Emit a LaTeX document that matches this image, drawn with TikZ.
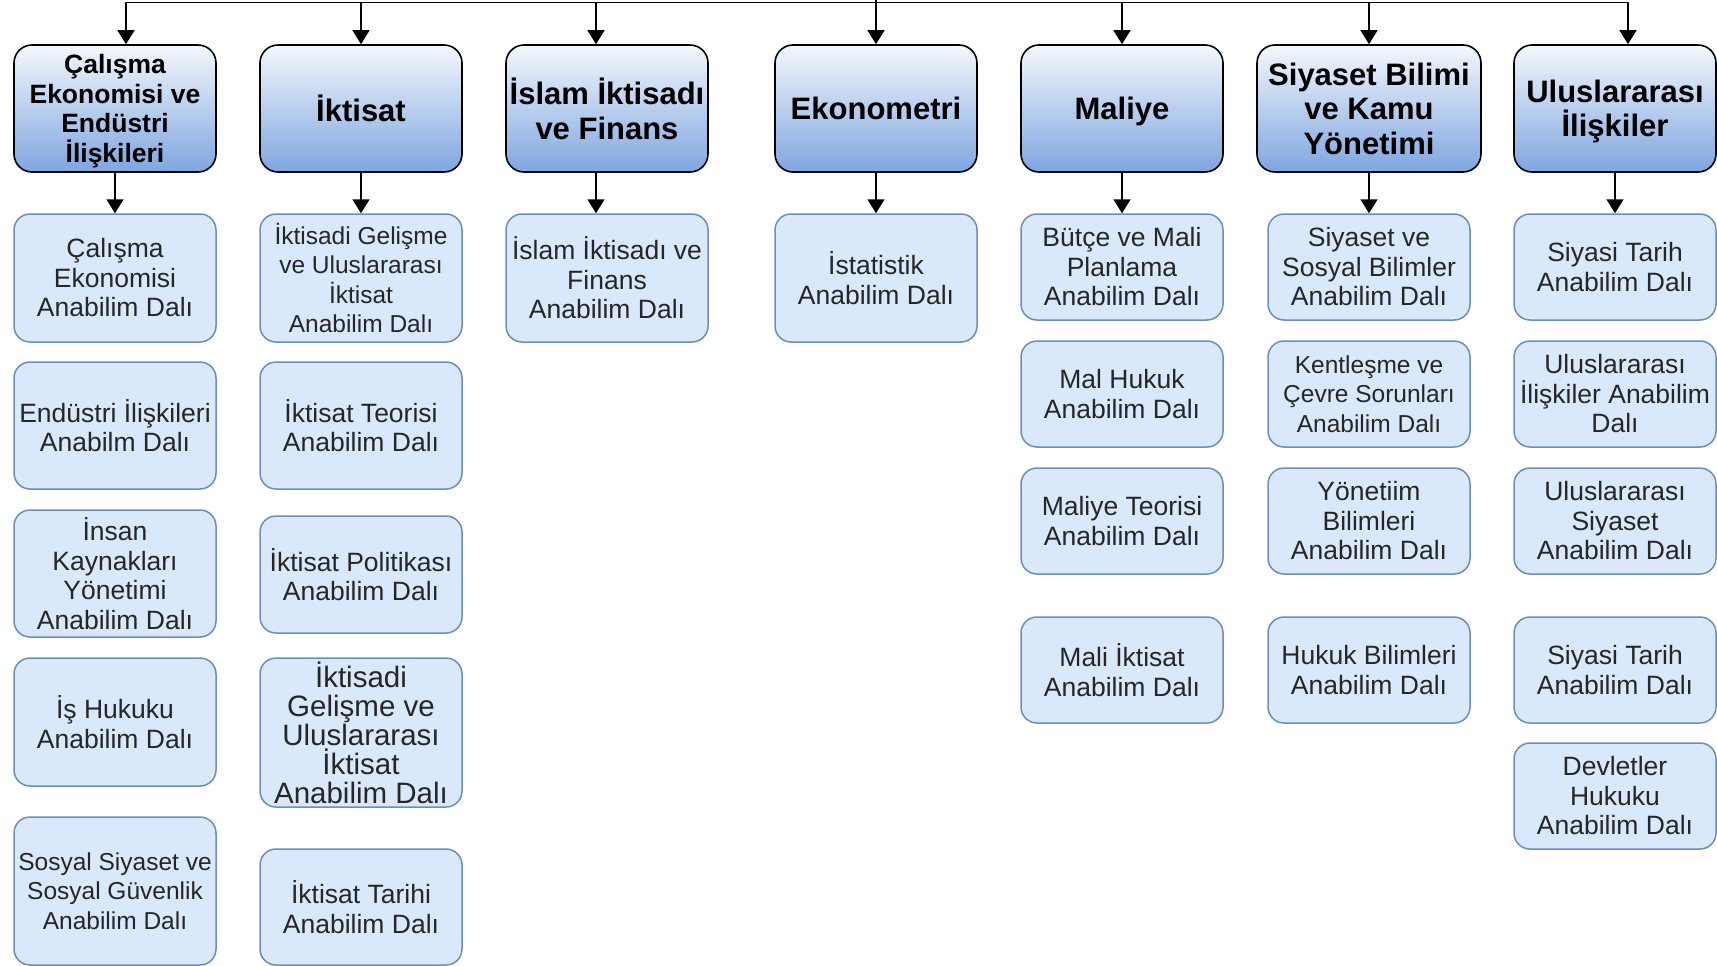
\documentclass[tikz,border=0pt]{standalone}
\usepackage{fontspec}
\setmainfont{Liberation Sans}
\usetikzlibrary{arrows.meta}
\definecolor{hdrtop}{HTML}{F4F7FC}
\definecolor{hdrbot}{HTML}{7EA6E0}
\definecolor{subfill}{HTML}{DAE8FC}
\definecolor{substroke}{HTML}{6C8EBF}
\definecolor{txt}{HTML}{262626}
\begin{document}
\begin{tikzpicture}[x=1pt,y=1pt,
 hdr/.style={draw=black, line width=1.6pt, rounded corners=18pt, top color=hdrtop, bottom color=hdrbot, minimum width=202pt, minimum height=127pt, inner sep=0pt, align=center, text=black, text depth=0pt, font=\fontsize{31}{34.5}\selectfont\bfseries},
 hdrsmall/.style={font=\fontsize{26.5}{29.5}\selectfont\bfseries},
 sub/.style={draw=substroke, line width=1.5pt, rounded corners=16pt, fill=subfill, minimum width=202pt, inner sep=0pt, align=center, text=txt, font=\fontsize{26.5}{29.5}\selectfont},
 subsmall/.style={font=\fontsize{24.5}{29.5}\selectfont},
 sublarge/.style={font=\fontsize{29.5}{29}\selectfont},
 conn/.style={line width=1.5pt, -{Triangle[length=14pt,width=17pt]}},
 plain/.style={line width=1.5pt},
]
\useasboundingbox (0,0) rectangle (1717,-966);

% headers
\node[hdr,hdrsmall] (h1) at (115,-108.5) {Çalışma\\Ekonomisi ve\\Endüstri\\İlişkileri};
\node[hdr] (h2) at (361,-108.5) {İktisat};
\node[hdr] (h3) at (607,-108.5) {İslam İktisadı\\ve Finans};
\node[hdr] (h4) at (876,-108.5) {Ekonometri};
\node[hdr] (h5) at (1122,-108.5) {Maliye};
\node[hdr,minimum width=224pt] (h6) at (1369,-108.5) {Siyaset Bilimi\\ve Kamu\\Yönetimi};
\node[hdr] (h7) at (1615,-108.5) {Uluslararası\\İlişkiler};

% column 1
\node[sub,minimum height=128pt] (c11) at (115,-278) {Çalışma\\Ekonomisi\\Anabilim Dalı};
\node[sub,minimum height=127pt] (c12) at (115,-425.5) {Endüstri İlişkileri\\Anabilm Dalı};
\node[sub,minimum height=127pt] (c13) at (115,-573.5) {İnsan\\Kaynakları\\Yönetimi\\Anabilim Dalı};
\node[sub,minimum height=128pt] (c14) at (115,-722) {İş Hukuku\\Anabilim Dalı};
\node[sub,subsmall,minimum height=148pt] (c15) at (115,-891) {Sosyal Siyaset ve\\Sosyal Güvenlik\\Anabilim Dalı};

% column 2
\node[sub,subsmall,minimum height=128pt] (c21) at (361,-278) {İktisadi Gelişme\\ve Uluslararası\\İktisat\\Anabilim Dalı};
\node[sub,minimum height=127pt] (c22) at (361,-425.5) {İktisat Teorisi\\Anabilim Dalı};
\node[sub,minimum height=117pt] (c23) at (361,-574.5) {İktisat Politikası\\Anabilim Dalı};
\node[sub,sublarge,minimum height=149pt] (c24) at (361,-732.5) {İktisadi\\Gelişme ve\\Uluslararası\\İktisat\\Anabilim Dalı};
\node[sub,minimum height=116pt] (c25) at (361,-907) {İktisat Tarihi\\Anabilim Dalı};

% column 3, 4
\node[sub,minimum height=128pt] (c31) at (607,-278) {İslam İktisadı ve\\Finans\\Anabilim Dalı};
\node[sub,minimum height=128pt] (c41) at (876,-278) {İstatistik\\Anabilim Dalı};

% column 5
\node[sub,minimum height=106pt] (c51) at (1122,-267) {Bütçe ve Mali\\Planlama\\Anabilim Dalı};
\node[sub,minimum height=106pt] (c52) at (1122,-394) {Mal Hukuk\\Anabilim Dalı};
\node[sub,minimum height=106pt] (c53) at (1122,-521) {Maliye Teorisi\\Anabilim Dalı};
\node[sub,minimum height=106pt] (c54) at (1122,-670) {Mali İktisat\\Anabilim Dalı};

% column 6
\node[sub,minimum height=106pt] (c61) at (1369,-267) {Siyaset ve\\Sosyal Bilimler\\Anabilim Dalı};
\node[sub,subsmall,minimum height=106pt] (c62) at (1369,-394) {Kentleşme ve\\Çevre Sorunları\\Anabilim Dalı};
\node[sub,minimum height=106pt] (c63) at (1369,-521) {Yönetiim\\Bilimleri\\Anabilim Dalı};
\node[sub,minimum height=106pt] (c64) at (1369,-670) {Hukuk Bilimleri\\Anabilim Dalı};

% column 7
\node[sub,minimum height=106pt] (c71) at (1615,-267) {Siyasi Tarih\\Anabilim Dalı};
\node[sub,minimum height=106pt] (c72) at (1615,-394) {Uluslararası\\İlişkiler Anabilim\\Dalı};
\node[sub,minimum height=106pt] (c73) at (1615,-521) {Uluslararası\\Siyaset\\Anabilim Dalı};
\node[sub,minimum height=106pt] (c74) at (1615,-670) {Siyasi Tarih\\Anabilim Dalı};
\node[sub,minimum height=106pt] (c75) at (1615,-796) {Devletler\\Hukuku\\Anabilim Dalı};

% top bus
\coordinate (t1) at (126,-2.5);
\coordinate (t2) at (361,-2.5);
\coordinate (t3) at (596,-2.5);
\coordinate (t4) at (876,-2.5);
\coordinate (root) at (876,0);
\coordinate (t5) at (1122,-2.5);
\coordinate (t6) at (1369,-2.5);
\coordinate (t7) at (1628,-2.5);
\draw[plain] (t2) -- (t6);
\draw[plain] (root) -- (t4);
\draw[conn] (t2) -- (t1) -- (t1 |- h1.north);
\draw[conn] (t2) -- (h2.north);
\draw[conn] (t3) -- (t3 |- h3.north);
\draw[conn] (t4) -- (h4.north);
\draw[conn] (t5) -- (h5.north);
\draw[conn] (t6) -- (h6.north);
\draw[conn] (t6) -- (t7) -- (t7 |- h7.north);

% header to first child
\draw[conn] (h1) -- (c11);
\draw[conn] (h2) -- (c21);
\draw[conn] (t3 |- h3.south) -- (t3 |- c31.north);
\draw[conn] (h4) -- (c41);
\draw[conn] (h5) -- (c51);
\draw[conn] (h6) -- (c61);
\draw[conn] (h7) -- (c71);
\end{tikzpicture}
\end{document}
